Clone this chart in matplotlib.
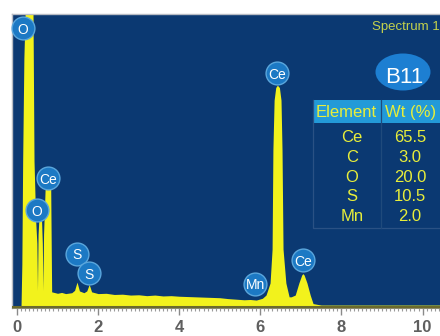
"""EDS spectrum of sample B11 with element labels and composition table."""

import matplotlib

matplotlib.use("Agg")
import matplotlib.pyplot as plt
from matplotlib.patches import Ellipse, Rectangle

# spectrum (keV, counts on a 0-1000 scale)
energy_kev = [
    0.10, 0.12, 0.14, 0.17, 0.22, 0.39, 0.42, 0.46, 0.49, 0.505,
    0.52, 0.55, 0.60, 0.625, 0.64, 0.655, 0.70, 0.78, 0.83, 0.845,
    0.855, 1.00, 1.10, 1.20, 1.35, 1.42, 1.48, 1.54, 1.65, 1.72,
    1.78, 1.84, 2.00, 2.20, 2.40, 2.60, 2.80, 3.00, 3.20, 3.40,
    3.60, 3.80, 4.00, 4.20, 4.40, 4.60, 4.80, 5.00, 5.20, 5.40,
    5.60, 5.75, 5.90, 6.05, 6.14, 6.24, 6.29, 6.31, 6.34, 6.38,
    6.42, 6.47, 6.51, 6.535, 6.56, 6.63, 6.71, 6.76, 6.86, 6.95,
    7.02, 7.05, 7.08, 7.15, 7.23, 7.30, 7.50, 10.60,
]
counts = [
    8, 150, 500, 850, 1100, 1100, 500, 300, 220, 60,
    250, 330, 320, 220, 60, 250, 430, 450, 430, 200,
    55, 50, 53, 49, 52, 60, 88, 58, 52, 58,
    80, 55, 49, 50, 46, 47, 44, 45, 42, 44,
    41, 42, 40, 39, 38, 37, 36, 35, 32, 30,
    28, 29, 27, 33, 44, 85, 200, 537, 707, 750,
    758, 750, 707, 537, 200, 85, 38, 38, 44, 85,
    112, 117, 112, 85, 44, 15, 10, 10,
]

label_names = ["O", "Ce", "O", "S", "S", "Mn", "Ce", "Ce"]
label_kev = [0.15, 0.76, 0.49, 1.48, 1.78, 5.87, 6.41, 7.05]
label_counts = [952, 442, 333, 184, 119, 82, 799, 163]

sample_name = "B11"
table_elements = ["Ce", "C", "O", "S", "Mn"]
table_wt = ["65.5", "3.0", "20.0", "10.5", "2.0"]
x_ticks = [0, 2, 4, 6, 8, 10]

NAVY = "#0b3972"
YELLOW = "#f2f21c"
TEXT_YELLOW = "#e8ee3a"
BADGE = "#1c79c4"

plt.rcParams["font.family"] = ["Liberation Sans", "DejaVu Sans"]

fig = plt.figure(figsize=(4.4, 3.36), dpi=100)
ax = fig.add_axes([12 / 440, 28 / 336, 428 / 440, 294 / 336])
ax.set_facecolor(NAVY)
ax.set_xlim(-0.123, 10.43)
ax.set_ylim(0, 1000)

ax.fill_between(energy_kev, 0, counts, color=YELLOW, linewidth=0, zorder=2)
ax.axhline(3, color="#6b6a2c", linewidth=2.2, zorder=3)


def frac(x, y):
    # pixel position in the 440x336 picture -> axes fraction
    return (x - 12) / 428, (308 - y) / 294


# element badges on the peaks
ax.scatter(label_kev, label_counts, s=270, color=BADGE, edgecolors="#5aa6dc",
           linewidths=1.0, zorder=5, clip_on=False)
for name, e, c in zip(label_names, label_kev, label_counts):
    ax.text(e, c, name, color="white", fontsize=10, ha="center", va="center_baseline",
            zorder=6)

# "Spectrum 1" caption
ax.text(*frac(372, 30), "Spectrum 1", transform=ax.transAxes, color="#c4d24c",
        fontsize=9.5, ha="left", va="baseline", zorder=6)

# sample badge
cx, cy = frac(403, 72)
ax.add_patch(Ellipse((cx, cy), 55 / 428, 37 / 294, transform=ax.transAxes,
                     facecolor="#1d7fd2", edgecolor="none", zorder=5))
ax.text(*frac(404, 83), sample_name, transform=ax.transAxes, color="white",
        fontsize=16, ha="center", va="baseline", zorder=6,
        family=["Liberation Sans Narrow", "Liberation Sans", "DejaVu Sans"])

# composition table
x0, y0 = frac(313, 123)
ax.add_patch(Rectangle((x0, y0), (450 - 313) / 428, 23 / 294, transform=ax.transAxes,
                       facecolor="#239ad8", edgecolor="none", zorder=4))
xl, yb = frac(313, 228)
ax.plot([xl, xl, 1.05], [y0 + 23 / 294, yb, yb], transform=ax.transAxes,
        color="#2a5184", linewidth=0.9, zorder=4)
xd, _ = frac(381, 0)
ax.plot([xd, xd], [y0 + 23 / 294, yb], transform=ax.transAxes,
        color="#1f4a7c", linewidth=0.9, zorder=4.5)

ax.text(*frac(346, 117), "Element", transform=ax.transAxes, color=TEXT_YELLOW,
        fontsize=12, ha="center", va="baseline", zorder=6)
ax.text(*frac(411, 117), "Wt (%)", transform=ax.transAxes, color=TEXT_YELLOW,
        fontsize=12, ha="center", va="baseline", zorder=6)
for i, (el, wt) in enumerate(zip(table_elements, table_wt)):
    base = 142 + 19.8 * i
    ax.text(*frac(352, base), el, transform=ax.transAxes, color=TEXT_YELLOW,
            fontsize=12, ha="center", va="baseline", zorder=6)
    ax.text(*frac(410, base), wt, transform=ax.transAxes, color=TEXT_YELLOW,
            fontsize=12, ha="center", va="baseline", zorder=6)

# axis styling
ax.set_xticks(x_ticks)
ax.set_xticklabels([str(t) for t in x_ticks])
ax.set_xticks([i / 10 for i in range(0, 105)], minor=True)
ax.set_yticks([])
ax.tick_params(axis="x", which="major", length=5, width=1.0, color="#8a8a8a",
               labelsize=12, labelcolor="#5f5f5f", pad=4)
ax.tick_params(axis="x", which="minor", length=2.2, width=0.8, color="#9a9a9a")
for lab in ax.get_xticklabels():
    lab.set_fontweight("bold")
    lab.set_family(["Liberation Sans Narrow", "Liberation Sans", "DejaVu Sans"])
for side in ("left", "top"):
    ax.spines[side].set_color("#b8bcc4")
    ax.spines[side].set_linewidth(1.0)
ax.spines["bottom"].set_color("#8a8a70")
ax.spines["right"].set_visible(False)

fig.savefig("out.png", dpi=100)
